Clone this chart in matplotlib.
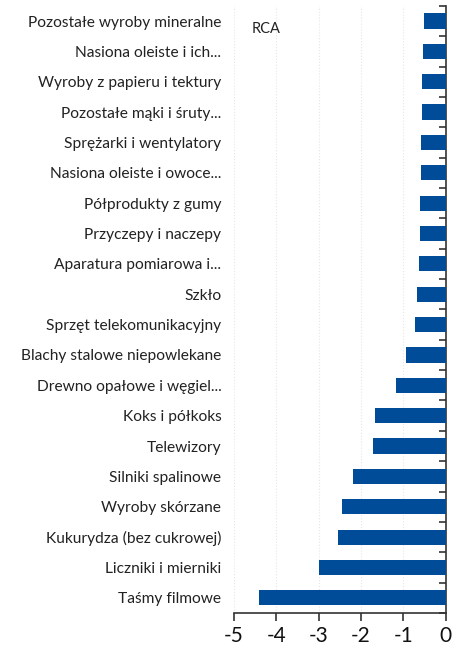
import matplotlib
matplotlib.use("Agg")
import matplotlib.pyplot as plt
import numpy as np

# categories top -> bottom
categories = [
    "Pozostałe wyroby mineralne",
    "Nasiona oleiste i ich...",
    "Wyroby z papieru i tektury",
    "Pozostałe mąki i śruty...",
    "Sprężarki i wentylatory",
    "Nasiona oleiste i owoce...",
    "Półprodukty z gumy",
    "Przyczepy i naczepy",
    "Aparatura pomiarowa i...",
    "Szkło",
    "Sprzęt telekomunikacyjny",
    "Blachy stalowe niepowlekane",
    "Drewno opałowe i węgiel...",
    "Koks i półkoks",
    "Telewizory",
    "Silniki spalinowe",
    "Wyroby skórzane",
    "Kukurydza (bez cukrowej)",
    "Liczniki i mierniki",
    "Taśmy filmowe",
]
rca = [-0.52, -0.54, -0.57, -0.57, -0.58, -0.59, -0.61, -0.62, -0.63, -0.68,
       -0.72, -0.93, -1.18, -1.67, -1.73, -2.20, -2.44, -2.54, -2.99, -4.40]
x_ticks = [-5, -4, -3, -2, -1, 0]

plt.rcParams['font.family'] = ['Lato', 'DejaVu Sans']

fig = plt.figure(figsize=(4.64, 6.48), dpi=100)
ax = fig.add_axes([0.504, 0.054, 0.457, 0.937])

ypos = np.arange(len(categories))
ax.barh(ypos, rca, height=0.5, color='#004c99', zorder=3)

ax.set_ylim(len(categories) - 0.5, -0.5)
ax.set_xlim(-5, 0)
ax.set_yticks(ypos)
ax.set_yticklabels(categories, fontsize=11.2, color='#222222')
ax.tick_params(axis='y', which='major', length=0, pad=9)
ax.set_yticks(np.arange(len(categories) + 1) - 0.5, minor=True)
ax.tick_params(axis='y', which='minor', left=False, right=True, direction='in',
               length=5, width=1.2, color='#333333')

ax.set_xticks(x_ticks)
ax.set_xticklabels([str(t) for t in x_ticks], fontsize=15, color='#111111')
ax.tick_params(axis='x', length=6, width=1.2, color='#333333')

ax.grid(axis='x', linestyle=':', color='#e6e6e6', linewidth=0.8, zorder=0)

for s in ['top', 'left']:
    ax.spines[s].set_visible(False)
ax.spines['right'].set_color('#333333')
ax.spines['right'].set_linewidth(1.2)
ax.spines['bottom'].set_color('#333333')
ax.spines['bottom'].set_linewidth(1.2)

ax.text(-4.58, 0.25, "RCA", fontsize=10.5, color='#222222', va='center')

fig.savefig("out.png", dpi=100)
